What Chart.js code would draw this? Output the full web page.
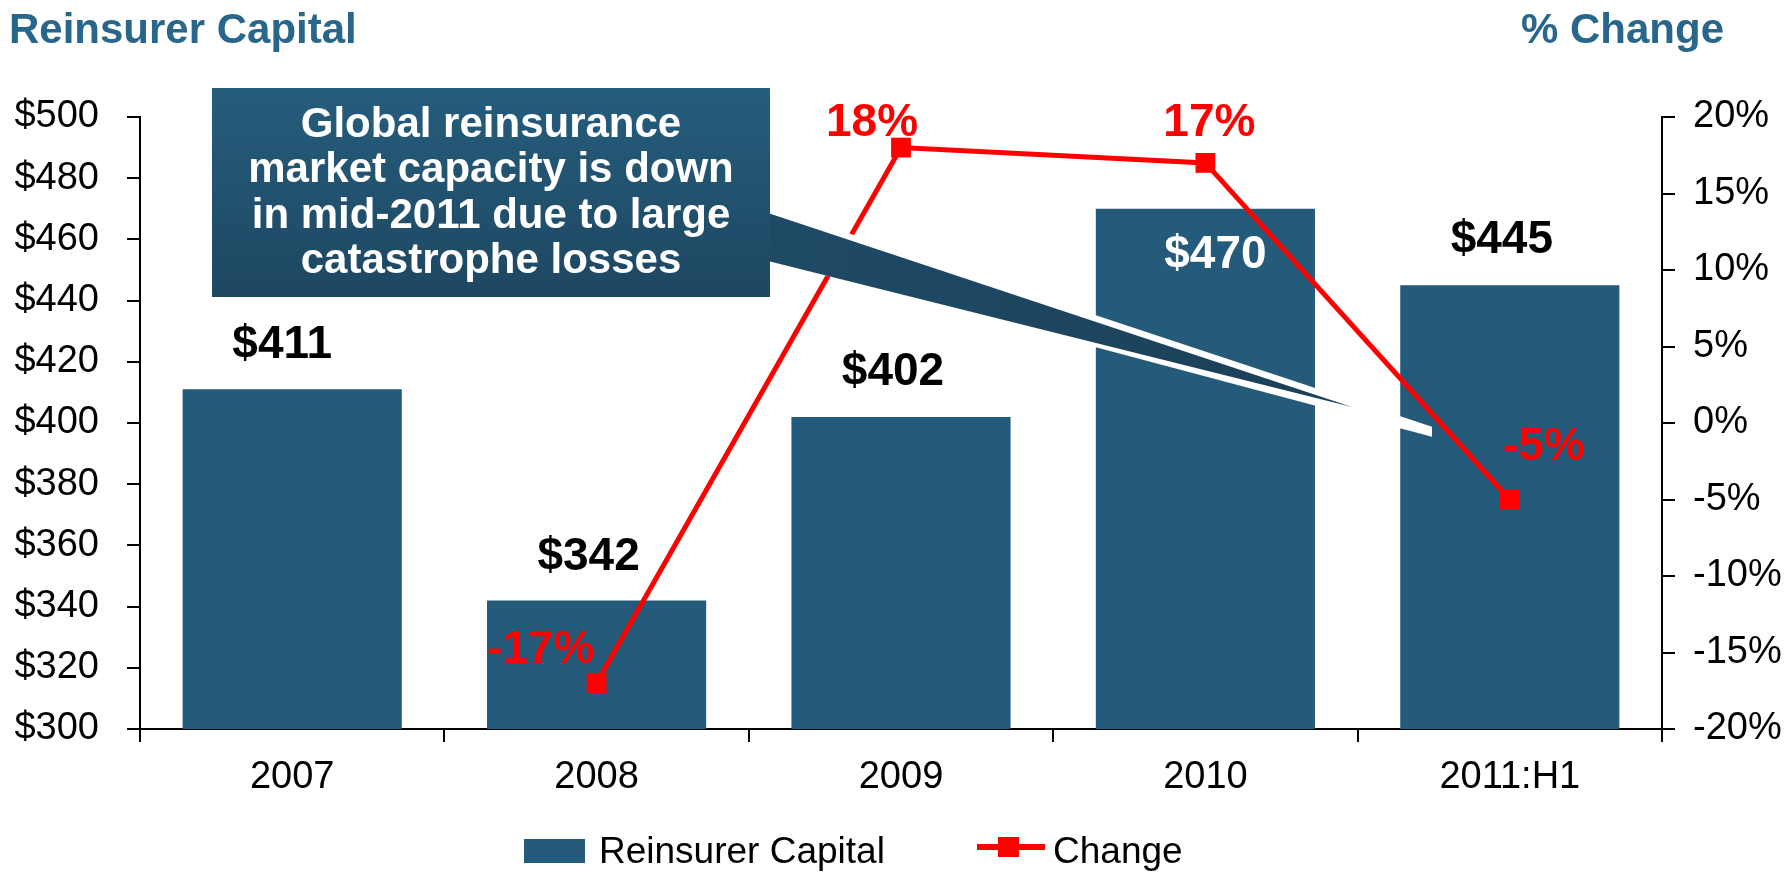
<!DOCTYPE html>
<html>
<head>
<meta charset="utf-8">
<title>Reinsurer Capital</title>
<script src="https://cdn.jsdelivr.net/npm/chart.js@4.4.0/dist/chart.umd.min.js"></script>
<style>
  body { margin: 0; background: #fff; }
  #wrap { width: 1787px; height: 879px; }
</style>
</head>
<body>
<div id="wrap"><canvas id="myChart" width="1787" height="879"></canvas></div>
<script>
var years = ["2007", "2008", "2009", "2010", "2011:H1"];
var capital = [411, 342, 402, 470, 445];          // $ billions
var change = [null, -17, 18, 17, -5];              // % change
var leftTitle = "Reinsurer Capital";
var rightTitle = "% Change";
var calloutLines = [
    "Global reinsurance",
    "market capacity is down",
    "in mid-2011 due to large",
    "catastrophe losses"
];

var barColor = "#245b7a";
var lineColor = "#ff0000";
var titleColor = "#28668b";
var FONT = "'Liberation Sans', Arial, sans-serif";

Chart.defaults.font.family = FONT;

// label placement: [dx, dy from bar top / point, colour]
var barLabelPos = [[-10, -31, "#000"], [-8, -30, "#000"], [-8, -32, "#000"], [10, 59, "#fff"], [-8, -32, "#000"]];
var lineLabelPos = [null, [-56, -20], [-29, -12], [4, -27], [34, -40]];

var labelsPlugin = {
    id: "valueLabels",
    afterDatasetsDraw: function (chart) {
        var ctx = chart.ctx;
        ctx.save();
        ctx.font = "bold 46px " + FONT;
        ctx.textAlign = "center";
        ctx.textBaseline = "alphabetic";

        var bars = chart.getDatasetMeta(1).data;
        bars.forEach(function (bar, i) {
            var p = barLabelPos[i];
            ctx.fillStyle = p[2];
            ctx.fillText("$" + capital[i], bar.x + p[0], bar.y + p[1]);
        });

        var pts = chart.getDatasetMeta(0).data;
        ctx.fillStyle = lineColor;
        pts.forEach(function (pt, i) {
            if (change[i] === null) return;
            var p = lineLabelPos[i];
            ctx.fillText(change[i] + "%", pt.x + p[0], pt.y + p[1]);
        });
        ctx.restore();
    }
};

var decorPlugin = {
    id: "decor",
    afterDraw: function (chart) {
        var ctx = chart.ctx;
        ctx.save();

        // axis titles
        ctx.font = "bold 42px " + FONT;
        ctx.fillStyle = titleColor;
        ctx.textBaseline = "alphabetic";
        ctx.textAlign = "left";
        ctx.fillText(leftTitle, 9, 43);
        ctx.textAlign = "right";
        ctx.fillText(rightTitle, 1724, 43);

        // callout pointer with white outline
        ctx.fillStyle = "#fff";
        ctx.beginPath();
        ctx.moveTo(771, 207.5);
        ctx.lineTo(1432, 426.7);
        ctx.lineTo(1432, 436.8);
        ctx.lineTo(771, 260.7);
        ctx.closePath();
        ctx.fill();

        var pg = ctx.createLinearGradient(770, 0, 1352, 0);
        pg.addColorStop(0, "#1f4a65");
        pg.addColorStop(1, "#1b4058");
        ctx.fillStyle = pg;
        ctx.beginPath();
        ctx.moveTo(768, 213);
        ctx.lineTo(1352, 407);
        ctx.lineTo(768, 261);
        ctx.closePath();
        ctx.fill();

        // callout box
        var g = ctx.createLinearGradient(0, 88, 0, 297);
        g.addColorStop(0, "#255d7c");
        g.addColorStop(1, "#1e4761");
        ctx.fillStyle = g;
        ctx.fillRect(212, 88, 558, 209);

        ctx.fillStyle = "#fff";
        ctx.font = "bold 42px " + FONT;
        ctx.textAlign = "center";
        var base = [137, 182, 228, 273];
        calloutLines.forEach(function (t, i) {
            ctx.fillText(t, 491, base[i]);
        });

        // legend
        var ds = chart.data.datasets;
        ctx.font = "37px " + FONT;
        ctx.textAlign = "left";
        ctx.fillStyle = barColor;
        ctx.fillRect(524, 839, 61, 24);
        ctx.fillStyle = "#000";
        ctx.fillText(ds[1].label, 599, 863);

        ctx.strokeStyle = lineColor;
        ctx.lineWidth = 6;
        ctx.beginPath();
        ctx.moveTo(977, 847);
        ctx.lineTo(1045, 847);
        ctx.stroke();
        ctx.fillStyle = lineColor;
        ctx.fillRect(998, 837, 21, 20);
        ctx.fillStyle = "#000";
        ctx.fillText(ds[0].label, 1053, 863);

        ctx.restore();
    }
};

var axisGrid = { drawOnChartArea: false, drawTicks: true, tickLength: 13, color: "#000", lineWidth: 2 };
var axisBorder = { display: true, color: "#000", width: 2 };

new Chart("myChart", {
    type: "bar",
    data: {
        labels: years,
        datasets: [{
            type: "line",
            label: "Change",
            data: change,
            yAxisID: "y1",
            borderColor: lineColor,
            backgroundColor: lineColor,
            borderWidth: 5,
            pointStyle: "rect",
            pointRadius: 14,
            pointBorderWidth: 0,
            pointBackgroundColor: lineColor,
            tension: 0,
            order: 0
        }, {
            label: "Reinsurer Capital",
            data: capital,
            yAxisID: "y",
            backgroundColor: barColor,
            barPercentage: 0.72,
            categoryPercentage: 1.0,
            order: 1
        }]
    },
    options: {
        responsive: false,
        animation: false,
        devicePixelRatio: 1,
        layout: { padding: { top: 117, left: 0, right: 0, bottom: 0 } },
        plugins: {
            legend: { display: false },
            tooltip: { enabled: false }
        },
        scales: {
            x: {
                offset: true,
                grid: Object.assign({ offset: true }, axisGrid),
                border: axisBorder,
                ticks: { color: "#000", font: { size: 38 }, padding: 13 },
                afterFit: function (s) { s.height = 150; }
            },
            y: {
                position: "left",
                min: 300,
                max: 500,
                grid: axisGrid,
                border: axisBorder,
                ticks: {
                    stepSize: 20,
                    color: "#000",
                    font: { size: 38 },
                    padding: 28,
                    callback: function (v) { return "$" + v; }
                },
                afterFit: function (s) { s.width = 140; }
            },
            y1: {
                position: "right",
                min: -20,
                max: 20,
                grid: axisGrid,
                border: axisBorder,
                ticks: {
                    stepSize: 5,
                    color: "#000",
                    font: { size: 38 },
                    padding: 18,
                    callback: function (v) { return v + "%"; }
                },
                afterFit: function (s) { s.width = 125; }
            }
        }
    },
    plugins: [labelsPlugin, decorPlugin]
});
</script>
</body>
</html>
